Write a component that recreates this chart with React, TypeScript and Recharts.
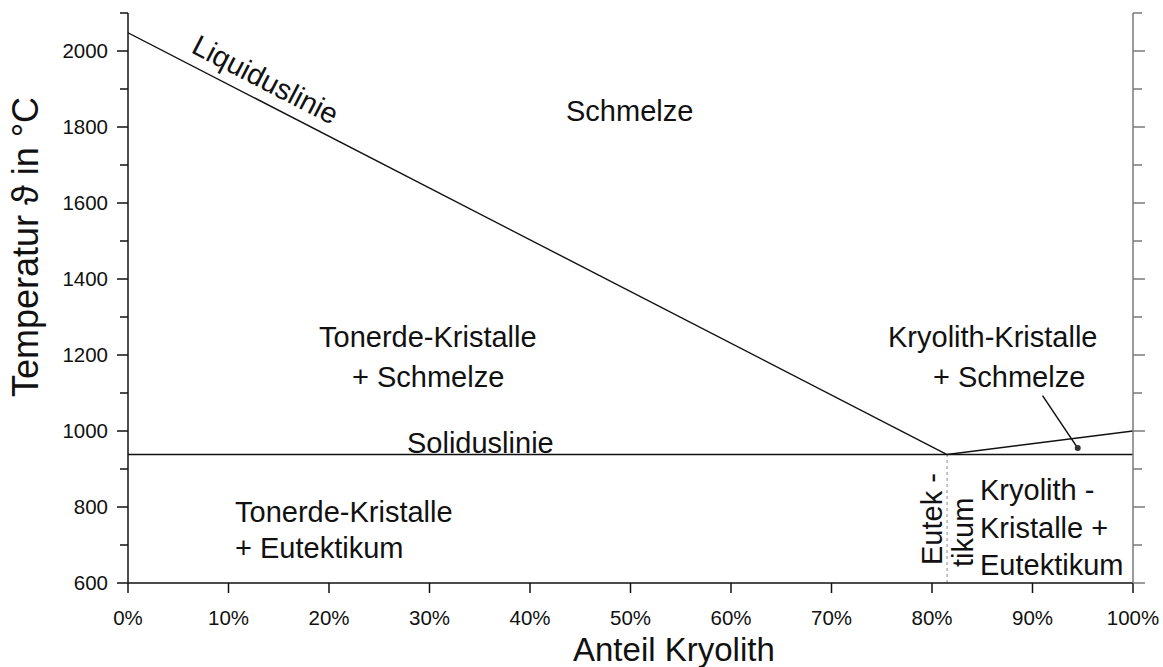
import {ComposedChart, Line, XAxis, YAxis, ReferenceDot} from 'recharts';

// Phasendiagramm Tonerde / Kryolith
const liquidusLeft = [
  {x: 0, t: 2048},
  {x: 81.5, t: 938}
];
const liquidusRight = [
  {x: 81.5, t: 938},
  {x: 100, t: 1000}
];
const solidus = [
  {x: 0, t: 938},
  {x: 100, t: 938}
];
const eutektikum = [
  {x: 81.5, t: 600},
  {x: 81.5, t: 938}
];
const pointer = [
  {x: 91.0, t: 1093},
  {x: 94.5, t: 955}
];

const xTicks = [0, 10, 20, 30, 40, 50, 60, 70, 80, 90, 100];
const yTicks = [600, 700, 800, 900, 1000, 1100, 1200, 1300, 1400, 1500, 1600, 1700, 1800, 1900, 2000, 2100];

const FONT = '"Liberation Sans", Arial, Helvetica, sans-serif';
const INK = '#111';
const GREY = '#7a7a7a';

const LeftTick = (props: any) => {
  const {x, y, payload} = props;
  const major = payload.value % 200 === 0;
  return (
    <g>
      <line x1={x - (major ? 11 : 8)} x2={x} y1={y} y2={y} stroke={INK} strokeWidth={1.5} />
      {major && (
        <text x={x - 20} y={y + 7} textAnchor="end" fontSize={20.5} fontFamily={FONT} fill={INK}>
          {payload.value}
        </text>
      )}
    </g>
  );
};

const RightTick = (props: any) => {
  const {x, y, payload} = props;
  const major = payload.value % 200 === 0;
  return <line x1={x} x2={x + (major ? 12 : 9)} y1={y} y2={y} stroke={GREY} strokeWidth={1.5} />;
};

const BottomTick = (props: any) => {
  const {x, y, payload} = props;
  return (
    <g>
      <line x1={x} x2={x} y1={y} y2={y + 10} stroke={INK} strokeWidth={1.5} />
      <text x={x} y={y + 42} textAnchor="middle" fontSize={20.5} fontFamily={FONT} fill={INK}>
        {`${payload.value}%`}
      </text>
    </g>
  );
};

const lbl = {fontSize: 29, fontFamily: FONT, fill: INK} as const;

export default function App() {
  return (
    <div style={{position: 'absolute', left: 0, top: 0, background: '#fff', fontFamily: FONT}}>
      <ComposedChart
        width={1163}
        height={667}
        margin={{top: 13, right: 10, bottom: 44, left: 68}}
      >
        <XAxis
          dataKey="x"
          type="number"
          domain={[0, 100]}
          ticks={xTicks}
          interval={0}
          height={40}
          tickSize={0}
          tickMargin={0}
          tickLine={false}
          tick={<BottomTick />}
          axisLine={{stroke: INK, strokeWidth: 1.5}}
          allowDataOverflow
        />
        <YAxis
          yAxisId="l"
          type="number"
          domain={[600, 2100]}
          ticks={yTicks}
          interval={0}
          width={60}
          tickSize={0}
          tickMargin={0}
          tickLine={false}
          tick={<LeftTick />}
          axisLine={{stroke: INK, strokeWidth: 1.5}}
          allowDataOverflow
        />
        <YAxis
          yAxisId="r"
          orientation="right"
          type="number"
          domain={[600, 2100]}
          ticks={yTicks}
          interval={0}
          width={20}
          tickSize={0}
          tickMargin={0}
          tickLine={false}
          tick={<RightTick />}
          axisLine={{stroke: GREY, strokeWidth: 1.5}}
          allowDataOverflow
        />
        <Line yAxisId="l" data={eutektikum} dataKey="t" type="linear" stroke="#8a8a8a" strokeWidth={1} strokeDasharray="3 3" dot={false} isAnimationActive={false} />
        <Line yAxisId="l" data={solidus} dataKey="t" type="linear" stroke={INK} strokeWidth={1.6} dot={false} isAnimationActive={false} />
        <Line yAxisId="l" data={liquidusLeft} dataKey="t" type="linear" stroke={INK} strokeWidth={1.4} dot={false} isAnimationActive={false} />
        <Line yAxisId="l" data={liquidusRight} dataKey="t" type="linear" stroke={INK} strokeWidth={1.4} dot={false} isAnimationActive={false} />
        <Line yAxisId="l" data={pointer} dataKey="t" type="linear" stroke={INK} strokeWidth={1.5} dot={false} isAnimationActive={false} />
        <ReferenceDot yAxisId="l" x={94.5} y={955} r={3} fill="#333" stroke="none" />

        <g>
          <text x={190} y={52} transform="rotate(27.3 190 52)" {...lbl}>Liquiduslinie</text>
          <text x={566} y={121} {...lbl}>Schmelze</text>
          <text x={319} y={347} {...lbl}>Tonerde-Kristalle</text>
          <text x={352} y={387} {...lbl}>+ Schmelze</text>
          <text x={407} y={453} {...lbl}>Soliduslinie</text>
          <text x={888} y={347} {...lbl}>Kryolith-Kristalle</text>
          <text x={933} y={387} {...lbl}>+ Schmelze</text>
          <text x={235} y={522} {...lbl}>Tonerde-Kristalle</text>
          <text x={235} y={558} {...lbl}>+ Eutektikum</text>
          <text x={980} y={500} {...lbl}>Kryolith -</text>
          <text x={980} y={538} {...lbl}>Kristalle +</text>
          <text x={980} y={575} {...lbl}>Eutektikum</text>
          <text x={942} y={565} transform="rotate(-90 942 565)" {...lbl}>Eutek -</text>
          <text x={973} y={567} transform="rotate(-90 973 567)" {...lbl}>tikum</text>
          <text x={573} y={661} fontSize={33} fontFamily={FONT} fill={INK}>Anteil Kryolith</text>
          <text x={38} y={247} transform="rotate(-90 38 247)" textAnchor="middle" fontSize={36} fontFamily={FONT} fill={INK}>
            Temperatur ϑ in °C
          </text>
        </g>
      </ComposedChart>
    </div>
  );
}
